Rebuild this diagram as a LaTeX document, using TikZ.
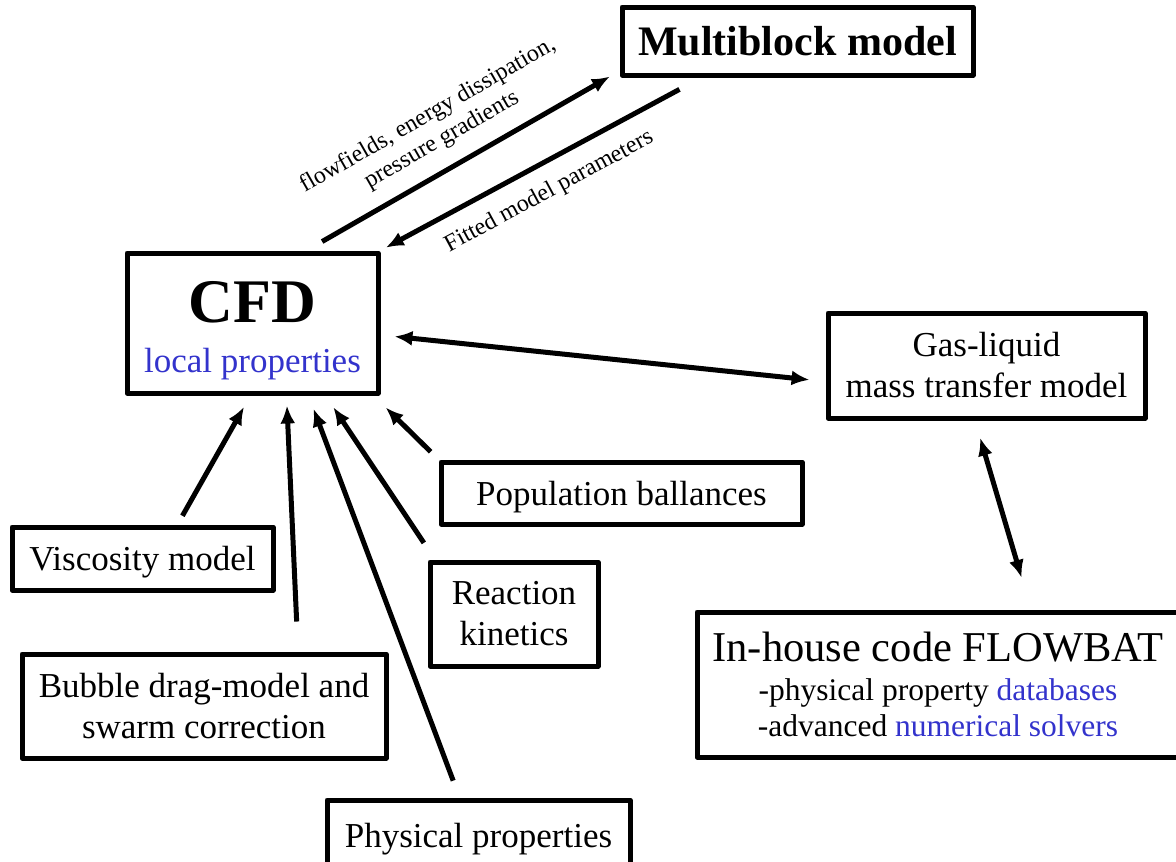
\documentclass[tikz,border=0pt]{standalone}
\usepackage{fontspec}
\setmainfont{Liberation Serif}
\usetikzlibrary{arrows.meta}
\definecolor{propblue}{RGB}{51,51,204}

\begin{document}
\begin{tikzpicture}[x=1pt,y=-1pt,
	box/.style={draw,line width=5pt,line join=round,align=center,inner sep=0pt,font=\fontsize{35}{41}\selectfont},
	arr/.style={line width=5pt,-{Latex[length=18pt,width=15pt]}},
	darr/.style={line width=5pt,{Latex[length=18pt,width=15pt]}-{Latex[length=18pt,width=15pt]}},
	lbl/.style={font=\fontsize{24}{28}\selectfont,align=center,inner sep=0pt}]
	\useasboundingbox (0,0) rectangle (1176,862);
	\node[box,minimum width=351pt,minimum height=68pt,text depth=0pt,font=\fontsize{42}{50}\selectfont\bfseries] (mb) at (797.5,41) {Multiblock model};
	\node[box,minimum width=251pt,minimum height=140pt,font=\fontsize{35}{50}\selectfont,text height=107pt] (cfd) at (252.5,323) {{\fontsize{62}{50}\selectfont\bfseries CFD}\\\textcolor{propblue}{local properties}};
	\node[box,minimum width=317pt,minimum height=105pt] (gas) at (986.5,365.5) {Gas-liquid\\mass transfer model};
	\node[box,minimum width=361pt,minimum height=62pt,text depth=0pt] (pop) at (621.5,493) {Population ballances};
	\node[box,minimum width=261pt,minimum height=63pt,text depth=0pt] (visc) at (142.5,558.5) {Viscosity model};
	\node[box,minimum width=168pt,minimum height=104pt] (react) at (514,614) {Reaction\\kinetics};
	\node[box,minimum width=364pt,minimum height=104pt] (bubble) at (204,706) {Bubble drag-model and\\swarm correction};
	\node[box,minimum width=303pt,minimum height=70pt,text depth=0pt] (phys) at (478.5,835) {Physical properties};
	\node[box,minimum width=482pt,minimum height=145pt,font=\fontsize{31.5}{36}\selectfont] (flow) at (938,684.5) {{\fontsize{42.5}{36}\selectfont In-house code FLOWBAT}\\[3pt]-physical property \textcolor{propblue}{databases}\\-advanced \textcolor{propblue}{numerical solvers}};
	% exchange with the multiblock model
	\draw[arr,shorten <=18pt,shorten >=11pt] ([xshift=54pt]cfd.north) -- node[lbl,sloped,above=15pt,xshift=-8pt] {flowfields, energy dissipation,\\pressure gradients} ([yshift=-30pt]mb.west);
	\draw[arr,shorten <=25pt,shorten >=6pt] ([xshift=-96pt]mb.south) -- node[lbl,sloped,below=15pt,xshift=-6pt] {Fitted model parameters} (cfd.north east);
	\draw[darr,shorten <=14pt,shorten >=16pt] ([yshift=-12pt]cfd.east) -- ([yshift=-16pt]gas.west);
	\draw[darr,shorten <=18pt,shorten >=33pt] ([xshift=-11.5pt]gas.south) -- ([xshift=93pt]flow.north);
	% sub-models feeding CFD
	\draw[arr,shorten <=10pt,shorten >=13pt] ([xshift=35pt]visc.north) -- ([xshift=-2pt]cfd.south);
	\draw[arr,shorten <=30pt,shorten >=10pt] ([xshift=94pt]bubble.north) -- ([xshift=34pt]cfd.south);
	\draw[arr,shorten <=18pt,shorten >=14pt] ([xshift=-19pt]phys.north) -- ([xshift=56pt]cfd.south);
	\draw[arr,shorten <=20pt,shorten >=14pt] ([xshift=-79pt]react.north) -- ([xshift=73pt]cfd.south);
	\draw[arr,shorten <=11pt,shorten >=17pt] (pop.north west) -- ([xshift=-7pt]cfd.south east);
\end{tikzpicture}
\end{document}
